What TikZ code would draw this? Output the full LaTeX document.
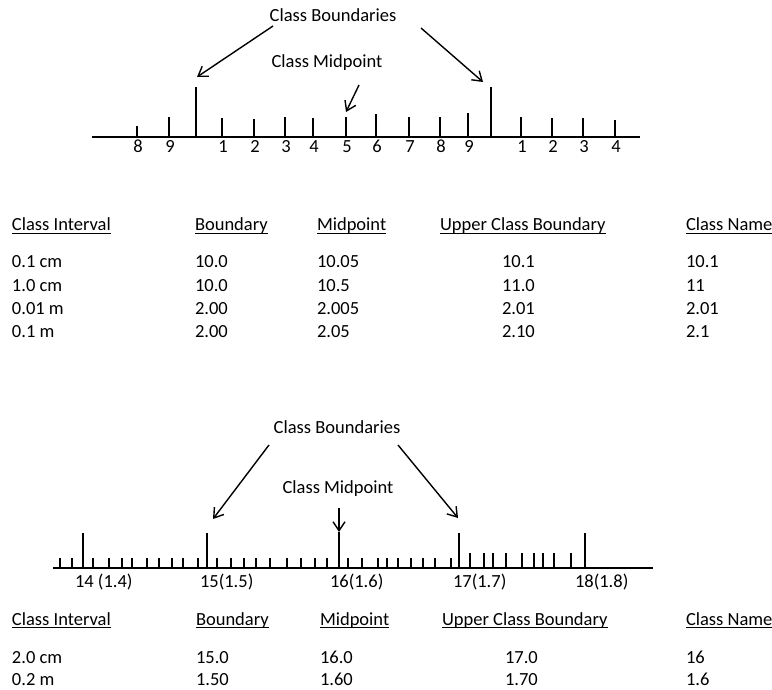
\documentclass[tikz,border=0pt]{standalone}
\usepackage{fontspec}
\setmainfont{Carlito}
\usetikzlibrary{arrows.meta}
\begin{document}
\begin{tikzpicture}[x=1pt,y=-1pt,
  lbl/.style={font=\fontsize{18.5}{20}\selectfont, inner sep=0pt, outer sep=0pt},
  cell/.style={lbl, anchor=base west},
  num/.style={lbl, anchor=base},
  arr/.style={line width=1.4pt, -{Straight Barb[length=9pt,width=12pt,line width=1.4pt]}},
  axisline/.style={line width=1.4pt},
  tickline/.style={line width=1.6pt},
  uline/.style={line width=0.9pt}]
\useasboundingbox (0,0) rectangle (772,690);

% ---------- top ruler ----------
\draw[axisline] (92,137) -- (640,137);
\foreach \x/\t in {137/126,169/117,222/118,254/119,285/117,313/118,346/117,376/114,409/117,440/117,468/113,521/117,552/118,583/118,615/120}
  \draw[tickline] (\x,137) -- (\x,\t);
\coordinate (tbL) at (196,87);
\coordinate (tbR) at (491,87);
\draw[tickline] (196,137) -- (tbL);
\draw[tickline] (491,137) -- (tbR);
\foreach \x/\n [count=\i] in {138/8,170/9,223/1,255/2,286/3,314/4,347/5,377/6,410/7,441/8,469/9,522/1,553/2,584/3,616/4}
  \node[num] (tl\i) at (\x,153) {\n};

\node[num] (tCB) at (333,22) {Class Boundaries};
\node[num] (tCM) at (327,68) {Class Midpoint};
\coordinate (tCBl) at (273,26);
\coordinate (tCBr) at (421,28);
\coordinate (tCMs) at (359,85);
\coordinate (tLtip) at (197,77);
\coordinate (tRtip) at (483,82);
\coordinate (tMtip) at (346,112);
\draw[arr] (tCBl) -- (tLtip);
\draw[arr] (tCBr) -- (tRtip);
\draw[arr] (tCMs) -- (tMtip);

% ---------- top table ----------
\node[cell] (h1a) at (12,230.5) {Class Interval};
\node[cell] (h1b) at (195,230.5) {Boundary};
\node[cell] (h1c) at (317,230.5) {Midpoint};
\node[cell] (h1d) at (440,230.5) {Upper Class Boundary};
\node[cell] (h1e) at (686,230.5) {Class Name};
\foreach \h in {h1a,h1b,h1c,h1d,h1e}
  \draw[uline] ([yshift=-2.5pt]\h.base west) -- ([yshift=-2.5pt]\h.base east);

\foreach \a/\b/\c/\d/\e [count=\i] in {0.1 cm/10.0/10.05/10.1/10.1, 1.0 cm/10.0/10.5/11.0/11, 0.01 m/2.00/2.005/2.01/2.01, 0.1 m/2.00/2.05/2.10/2.1}{
  \pgfmathsetmacro{\yy}{268+23.2*(\i-1)}
  \node[cell] (r1\i a) at (12,\yy) {\a};
  \node[cell] (r1\i b) at (195,\yy) {\b};
  \node[cell] (r1\i c) at (317,\yy) {\c};
  \node[cell] (r1\i d) at (502,\yy) {\d};
  \node[cell] (r1\i e) at (686,\yy) {\e};
}

% ---------- bottom ruler ----------
\draw[axisline] (53,568) -- (653,568);
\foreach \x in {60,72,93,109,122,132,147,159,172,183,198,217,231,244,256,270,287,301,315,327,348,362,378,387,398,411,423,435,451}
  \draw[tickline] (\x,568) -- (\x,558);
\foreach \x in {470,484,493,506,522,534,543,554,571}
  \draw[tickline] (\x,568) -- (\x,553);
\foreach \x in {83,585}
  \draw[tickline] (\x,568) -- (\x,533);
\coordinate (bLtop) at (207,533);
\coordinate (bRtop) at (459,533);
\coordinate (bMtop) at (339,532);
\draw[tickline] (207,568) -- (bLtop);
\draw[tickline] (459,568) -- (bRtop);
\draw[tickline] (339,568) -- (bMtop);

\node[cell] (bl1) at (75,587) {14 (1.4)};
\node[cell] (bl2) at (200,587) {15(1.5)};
\node[cell] (bl3) at (330,587) {16(1.6)};
\node[cell] (bl4) at (453,587) {17(1.7)};
\node[cell] (bl5) at (575,587) {18(1.8)};

\node[num] (bCB) at (337,433) {Class Boundaries};
\node[num] (bCM) at (338,493) {Class Midpoint};
\coordinate (bCBl) at (269,445);
\coordinate (bCBr) at (398,445);
\coordinate (bCMs) at (339,508);
\coordinate (bLtip) at (213,519);
\coordinate (bRtip) at (458,518);
\draw[arr] (bCBl) -- (bLtip);
\draw[arr] (bCBr) -- (bRtip);
\draw[arr] (bCMs) -- (bMtop);

% ---------- bottom table ----------
\node[cell] (h2a) at (12,625) {Class Interval};
\node[cell] (h2b) at (196,625) {Boundary};
\node[cell] (h2c) at (320,625) {Midpoint};
\node[cell] (h2d) at (442,625) {Upper Class Boundary};
\node[cell] (h2e) at (686,625) {Class Name};
\foreach \h in {h2a,h2b,h2c,h2d,h2e}
  \draw[uline] ([yshift=-2.5pt]\h.base west) -- ([yshift=-2.5pt]\h.base east);

\foreach \a/\b/\c/\d/\e [count=\i] in {2.0 cm/15.0/16.0/17.0/16, 0.2 m/1.50/1.60/1.70/1.6}{
  \pgfmathsetmacro{\yy}{663+22*(\i-1)}
  \node[cell] (r2\i a) at (12,\yy) {\a};
  \node[cell] (r2\i b) at (196,\yy) {\b};
  \node[cell] (r2\i c) at (320,\yy) {\c};
  \node[cell] (r2\i d) at (505,\yy) {\d};
  \node[cell] (r2\i e) at (686,\yy) {\e};
}
\end{tikzpicture}
\end{document}
